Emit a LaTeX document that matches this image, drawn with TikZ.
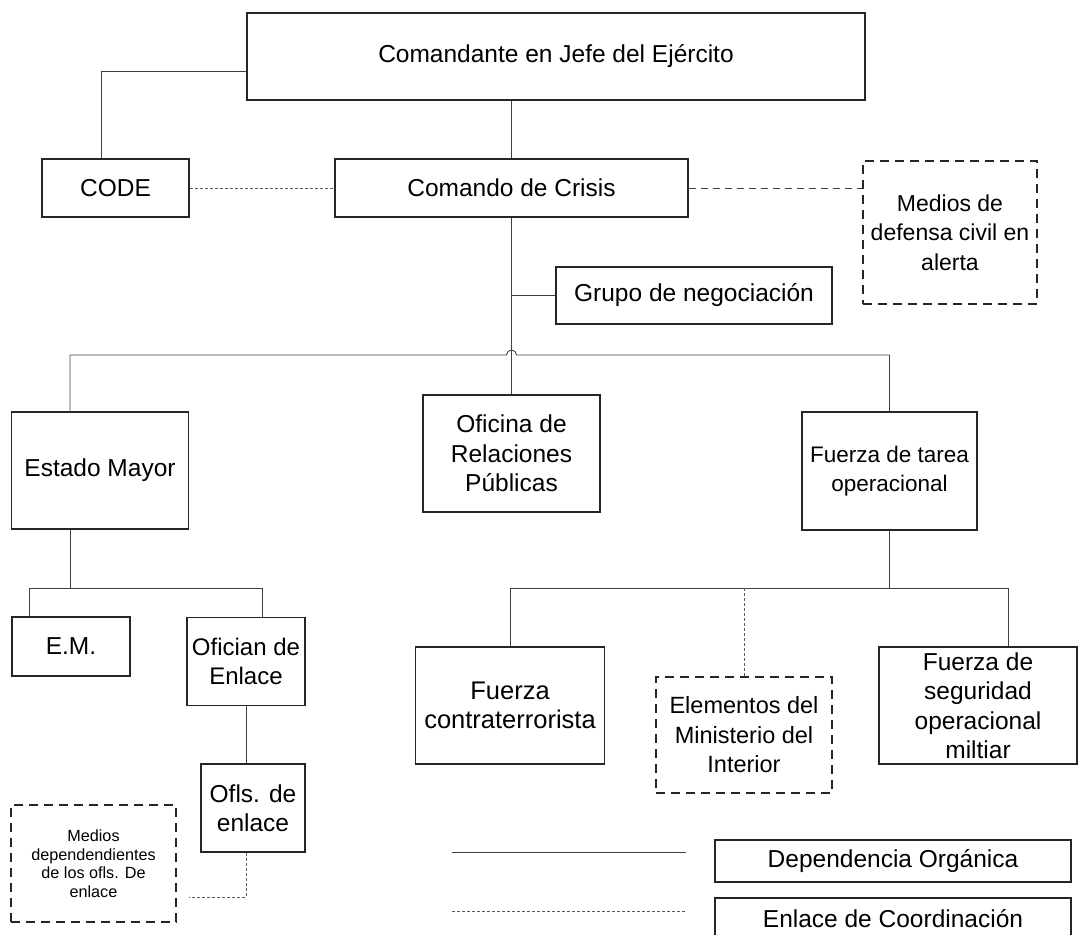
\documentclass[tikz,border=0pt]{standalone}
\usepackage{fontspec}
\setmainfont{Liberation Sans}
\usetikzlibrary{calc}
\begin{document}
\begin{tikzpicture}[x=1pt,y=1pt,
  box/.style={draw=black!85, line width=1.2pt, align=center, inner sep=0pt,
    font=\fontsize{24.5}{29.5}\selectfont},
  dbox/.style={box, dash pattern=on 9pt off 6pt},
  fsz/.style={font=\fontsize{#1}{29.5}\selectfont},
  small/.style={font=\fontsize{16.2}{18.5}\selectfont},
  conn/.style={draw=black!75, line width=0.9pt},
  dotc/.style={draw=black!65, line width=0.9pt, dash pattern=on 3pt off 2pt},
  dashc/.style={draw=black!75, line width=0.9pt, dash pattern=on 7pt off 5pt}]
\useasboundingbox (0,0) rectangle (1091,-934);
\clip (0,0) rectangle (1091,-934);

\node[box, minimum width=618, minimum height=87] (cmd) at (556,-56.5) {Comandante en Jefe del Ejército};
\node[box, minimum width=147, minimum height=58] (code) at (115.5,-188) {CODE};
\node[box, minimum width=353, minimum height=58] (crisis) at (511.5,-188) {Comando de Crisis};
\node[dbox, fsz=23, minimum width=174, minimum height=143] (civil) at (950,-232.5) {Medios de\\defensa civil en\\alerta};
\node[box, minimum width=276, minimum height=57] (grupo) at (694,-295.5) {Grupo de negociación};
\node[box, minimum width=177, minimum height=117] (em) at (100,-470.5) {Estado Mayor};
\node[box, minimum width=177, minimum height=117] (orp) at (511.5,-453.5) {Oficina de\\Relaciones\\Públicas};
\node[box, fsz=22.5, minimum width=175, minimum height=118] (ft) at (889.5,-471) {Fuerza de tarea\\operacional};
\node[box, minimum width=118, minimum height=59] (emb) at (71,-646.5) {E.M.};
\node[box, fsz=24, minimum width=118, minimum height=88] (ofi) at (246,-661.5) {Ofician de\\Enlace};
\node[box, minimum width=104, minimum height=88] (ofls) at (253,-808) {Ofls. de\\enlace};
\node[dbox, small, minimum width=165, minimum height=117] (med) at (93.5,-863.5) {Medios\\dependendientes\\de los ofls. De\\enlace};
\node[box, fsz=25.5, minimum width=189, minimum height=117] (fct) at (510,-705.5) {Fuerza\\contraterrorista};
\node[dbox, fsz=23.5, minimum width=176, minimum height=116] (elem) at (744,-735) {Elementos del\\Ministerio del\\Interior};
\node[box, minimum width=198, minimum height=117] (fsm) at (978,-705.5) {Fuerza de\\seguridad\\operacional\\miltiar};
\node[box, minimum width=356, minimum height=42] (ldep) at (893,-861) {Dependencia Orgánica};
\node[box, minimum width=356, minimum height=42] (lenl) at (893,-919) {Enlace de Coordinación};

% top connectors
\coordinate (c1) at (101,-71);
\draw[conn] (c1 -| cmd.west) -- (c1) -- (code.north -| c1);
\draw[conn] (cmd.south -| crisis.north) -- (crisis.north);
\draw[dotc] (code.east) -- (crisis.west);
\draw[dashc] (crisis.east) -- (crisis.east -| civil.west);
\draw[conn] (crisis.south) -- (orp.north);
\draw[conn] (grupo.west -| crisis.south) -- (grupo.west);

% main bus with hop
\coordinate (bl) at (70,-355);
\coordinate (hop) at (511.5,-355);
\draw[conn] (em.north -| bl) -- (bl) -- ($(hop)+(-5,0)$) arc[start angle=180, end angle=0, radius=5] -- (bl -| ft.north) -- (ft.north);

% Estado Mayor branch
\coordinate (s1) at (70,-588);
\coordinate (s1l) at (29,-588);
\coordinate (s1r) at (262,-588);
\draw[conn] (em.south -| s1) -- (s1);
\draw[conn] (emb.north -| s1l) -- (s1l) -- (s1r) -- (ofi.north -| s1r);
\draw[conn] (ofi.south) -- (ofi.south |- ofls.north);
\coordinate (m1) at (246,-897);
\draw[dotc] (ofls.south -| m1) -- (m1) -- ($(m1 -| med.east)+(12,0)$);

% Fuerza de tarea branch
\coordinate (s2l) at (510,-588);
\coordinate (s2r) at (1008,-588);
\coordinate (s2m) at (744,-588);
\draw[conn] (ft.south) -- (ft.south |- s2l);
\draw[conn] (fct.north) -- (s2l) -- (s2r) -- (fsm.north -| s2r);
\draw[dotc] (s2m) -- (elem.north);

% legend
\coordinate (la) at (452,-852);
\coordinate (lb) at (686,-852);
\coordinate (lc) at (452,-911);
\coordinate (ld) at (686,-911);
\draw[conn] (la) -- (lb);
\draw[dotc] (lc) -- (ld);
\end{tikzpicture}
\end{document}
